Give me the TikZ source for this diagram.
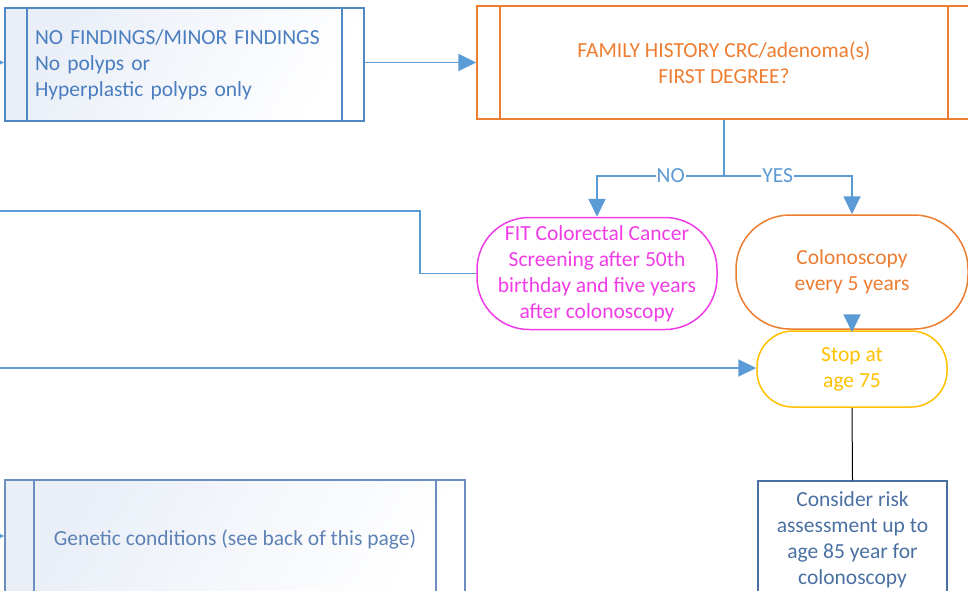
\documentclass[tikz,border=0pt]{standalone}
\usepackage{fontspec}
\setmainfont{Carlito}
\usetikzlibrary{arrows.meta, positioning}

\definecolor{findblue}{HTML}{5088C6}
\definecolor{findtext}{HTML}{4A7EC0}
\definecolor{famorange}{HTML}{ED7D31}
\definecolor{connblue}{HTML}{5B9BD5}
\definecolor{fitpink}{HTML}{F03CE6}
\definecolor{stopgold}{HTML}{FFC000}
\definecolor{genblue}{HTML}{6C8DBF}
\definecolor{gentext}{HTML}{5E82B5}
\definecolor{riskblue}{HTML}{4A70A2}
\definecolor{boxtint}{HTML}{E9EEF7}

\begin{document}
\begin{tikzpicture}[x=1pt, y=-1pt,
    every node/.style={font=\fontsize{21.5}{26}\selectfont},
    procbox/.style 2 args={draw=#1, line width=1.5pt, rectangle, inner sep=0pt,
      path picture={\draw[#1, line width=1.3pt]
        ([xshift=#2]path picture bounding box.north west) -- ([xshift=#2]path picture bounding box.south west)
        ([xshift=-#2]path picture bounding box.north east) -- ([xshift=-#2]path picture bounding box.south east);}},
    endbox/.style={draw, line width=1.5pt, rectangle, inner sep=0pt, align=center},
    conn/.style={draw=connblue, line width=1.9pt, -{Triangle[length=18pt, width=17pt]}},
    connline/.style={draw=connblue, line width=1.9pt}
  ]
  \clip (0,0) rectangle (968,590);

  % No findings
  \node[procbox={findblue}{22pt}, left color=boxtint, right color=white, shading angle=60,
    minimum width=359pt, minimum height=113pt, text width=299pt, inner xsep=30pt,
    align=left, text=findtext] (nofind) at (184.5,64.5)
    {NO FINDINGS/MINOR FINDINGS\\No polyps or\\Hyperplastic polyps only};
  \coordinate (infind) at (-30,62.5);
  \draw[conn] (infind) -- (infind -| nofind.west);

  % Family history
  \node[procbox={famorange}{23pt}, minimum width=494pt, minimum height=113pt,
    align=center, text=famorange] (famhist) at (724,62.5)
    {FAMILY HISTORY CRC/adenoma(s)\\FIRST DEGREE?};
  \draw[conn] (nofind.east |- famhist.west) -- (famhist.west);

  % Outcomes
  \node[endbox, draw=fitpink, text=fitpink, rounded corners=52pt,
    minimum width=240pt, minimum height=112pt] (fit) at (597,273.5)
    {FIT Colorectal Cancer\\Screening after 50th\\birthday and five years\\after colonoscopy};
  \node[endbox, draw=famorange, text=famorange, rounded corners=54pt,
    minimum width=232pt, minimum height=114pt] (colono) at (852,272)
    {Colonoscopy\\every 5 years};
  \node[endbox, draw=stopgold, text=stopgold, rounded corners=36pt,
    minimum width=190pt, minimum height=76pt] (stop) at (852,369)
    {Stop at\\age 75};

  \coordinate (split) at (724,176);
  \draw[connline] (famhist.south) -- (split);
  \draw[conn] (split) -| node[pos=0.21, fill=white, inner sep=1pt, text=connblue] {NO} (fit.north);
  \draw[conn] (split) -| node[pos=0.21, fill=white, inner sep=1pt, text=connblue] {YES} (colono.north);
  \draw[conn] (colono.south) -- ([yshift=-2pt]stop.north);

  % Lines from the left
  \coordinate (infit) at (-30,211);
  \coordinate (fitbend) at (420,211);
  \draw[connline] (infit) -- (fitbend) |- (fit.west);
  \coordinate (instop) at (-30,368);
  \draw[conn] (instop) -- (instop -| stop.west);

  % Risk assessment
  \node[endbox, draw=riskblue, text=riskblue, minimum width=189pt, minimum height=118pt] (risk) at (852.5,540)
    {Consider risk\\assessment up to\\age 85 year for\\colonoscopy};
  \draw[black, line width=1pt] (stop.south) -- (risk.north);

  % Genetic
  \node[procbox={genblue}{29pt}, left color=boxtint, right color=white, shading angle=60,
    minimum width=460pt, minimum height=118pt, text=gentext] (genetic) at (235,539)
    {Genetic conditions (see back of this page)};
  \coordinate (ingen) at (-30,536);
  \draw[conn] (ingen) -- (ingen -| genetic.west);
\end{tikzpicture}
\end{document}
